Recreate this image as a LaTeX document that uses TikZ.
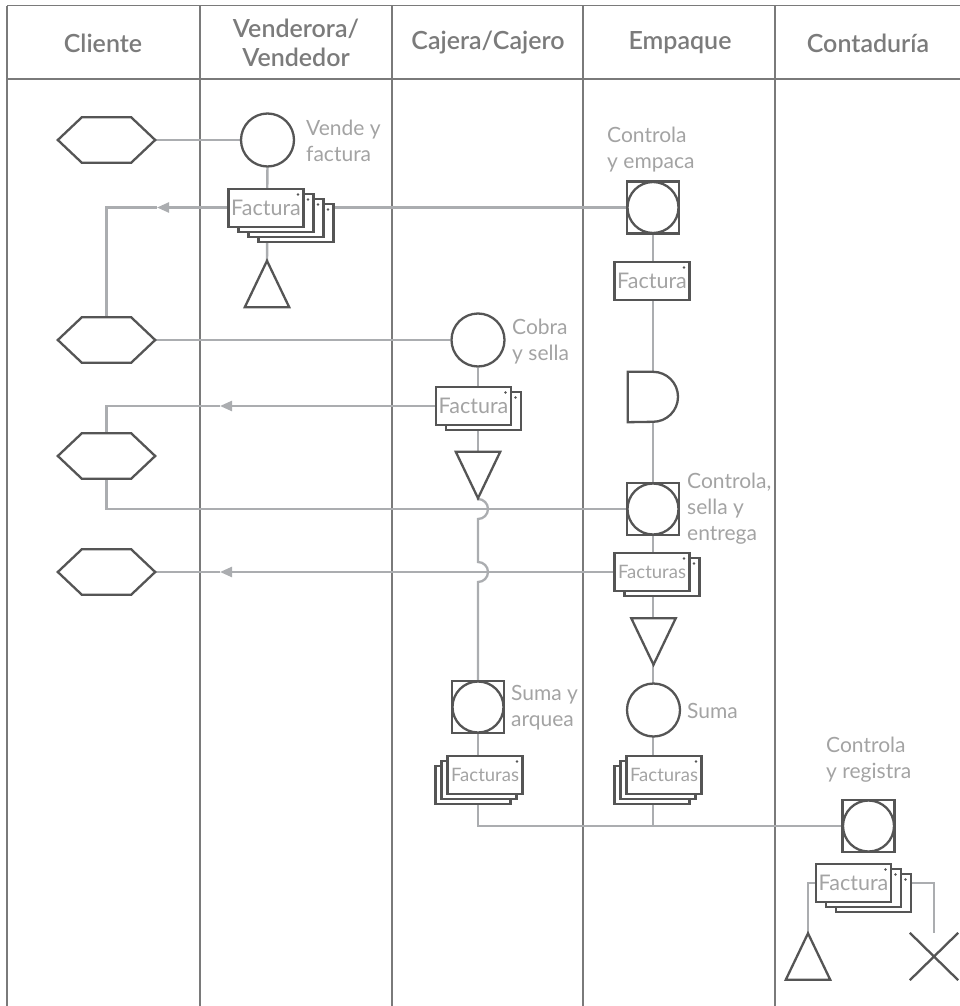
\documentclass[tikz,border=0pt]{standalone}
\usepackage{fontspec}
\setmainfont{Lato}
\newfontfamily\headfont{Lato Semibold}
\usetikzlibrary{arrows.meta,positioning,calc,shapes.misc,shadows}

\definecolor{shapegray}{HTML}{555555}
\definecolor{linkgray}{HTML}{ABADB0}
\definecolor{lanegray}{HTML}{7A7A7A}
\definecolor{txtgray}{HTML}{A3A3A3}
\definecolor{headgray}{HTML}{7B7B7B}

\pgfdeclarelayer{bg}
\pgfsetlayers{bg,main}

\begin{document}
\begin{tikzpicture}[
    x=1pt, y=-1pt,
    shp/.style={draw=shapegray, line width=2.3pt, fill=white},
    link/.style={draw=linkgray, line width=2.3pt},
    tip/.style={-{Triangle[length=12pt,width=10pt]}},
    lane/.style={draw=lanegray, line width=1.4pt},
    head/.style={text=headgray, font=\headfont\fontsize{25}{29}\selectfont, align=center},
    note/.style={text=txtgray, font=\fontsize{21}{26}\selectfont, align=left, anchor=west, inner sep=0pt},
    proc/.style={shp, circle, minimum size=53pt, inner sep=0pt},
    cproc/.style={shp, rectangle, minimum size=52pt, inner sep=0pt,
        path picture={\draw[draw=shapegray, line width=2.3pt] (path picture bounding box.center) circle[radius=25.5pt];}},
    hexa/.style={minimum width=97pt, minimum height=45pt, inner sep=0pt},
    trbox/.style={minimum width=44pt, minimum height=46pt, inner sep=0pt},
    waitbox/.style={minimum width=50pt, minimum height=50pt, inner sep=0pt},
    doc/.style={shp, rectangle, minimum width=75pt, minimum height=38pt, inner sep=0pt,
        text=txtgray, font=\fontsize{21.5}{24}\selectfont,
        path picture={\fill[shapegray] ([xshift=-5.5pt,yshift=-5.5pt]path picture bounding box.north east) circle[radius=1.3pt];}},
    docs/.style={doc, font=\fontsize{18.5}{22}\selectfont},
    sheet/.style 2 args={copy shadow={shadow xshift=#1, shadow yshift=#2, draw=shapegray, fill=white, line width=2.3pt,
        path picture={\fill[shapegray] ([xshift=-5.5pt,yshift=-5.5pt]path picture bounding box.north east) circle[radius=1.3pt];}}},
    pile2/.style={sheet={10pt}{-5pt}},
    pile3/.style={sheet={20pt}{-10pt}, sheet={10pt}{-5pt}},
    pile4/.style={sheet={30pt}{-15pt}, sheet={20pt}{-10pt}, sheet={10pt}{-5pt}},
    pile3l/.style={sheet={-12pt}{-10pt}, sheet={-6pt}{-5pt}}
]
\useasboundingbox (0,0) rectangle (960,1006);

% headers
\node[head] (hcli) at (103,43) {Cliente};
\node[head] (hven) at (296,43) {Venderora/\\Vendedor};
\node[head] (hcaj) at (488,43) {Cajera/Cajero};
\node[head] (hemp) at (680,43) {Empaque};
\node[head] (hcon) at (868,43) {Contaduría};

% Cliente
\node[hexa] (cl1) at (106.5,140) {};
\node[hexa] (cl2) at (106.5,340) {};
\node[hexa] (cl3) at (106.5,456) {};
\node[hexa] (cl4) at (106.5,572) {};

% Venderora/Vendedor
\node[proc] (ven) at (267.5,140) {};
\node[note] (venl) at (306,141) {Vende y\\factura};
\node[doc, pile4] (vfac) at (266,208) {Factura};
\node[trbox] (vend) at (267,284) {};

% Cajera/Cajero
\node[proc] (caj) at (478,340) {};
\node[note] (cajl) at (512,342) {Cobra\\y sella};
\node[doc, pile2] (cfac) at (473.5,406) {Factura};
\node[trbox] (cfile) at (478,475) {};
\node[cproc] (sum1) at (478,707) {};
\node[note] (sum1l) at (511,708) {Suma y\\arquea};
\node[docs, pile3l] (cfacs) at (485,775) {Facturas};

% Empaque
\node[note] (empl) at (607,150) {Controla\\y empaca};
\node[cproc] (emp) at (653,207.5) {};
\node[doc] (efac) at (652,281) {Factura};
\node[waitbox] (ewait) at (653,397) {};
\node[cproc] (ent) at (653,509) {};
\node[note] (entl) at (687,509) {Controla,\\sella y\\entrega};
\node[docs, pile2] (efacs) at (652,572) {Facturas};
\node[trbox] (efile) at (653.5,641.5) {};
\node[proc] (sum2) at (653.5,710) {};
\node[note] (sum2l) at (687,711) {Suma};
\node[docs, pile3l] (efacs2) at (664,775) {Facturas};

% Contaduria
\node[note] (regl) at (826,760) {Controla\\y registra};
\node[cproc] (reg) at (868.5,826) {};
\node[doc, pile3] (rfac) at (853.5,883) {Factura};
\node[trbox] (rfile) at (808,956.5) {};
\node[cross out, draw=shapegray, line width=2.3pt, minimum width=46pt, minimum height=45pt] (rdel) at (934,956.5) {};

% outlines
\foreach \n in {cl1,cl2,cl3,cl4}
  \draw[shp] (\n.west) -- ([xshift=24pt]\n.north west) -- ([xshift=-24pt]\n.north east) -- (\n.east)
    -- ([xshift=-24pt]\n.south east) -- ([xshift=24pt]\n.south west) -- cycle;
\foreach \n in {vend,rfile}
  \draw[shp] (\n.north) -- (\n.south east) -- (\n.south west) -- cycle;
\foreach \n in {cfile,efile}
  \draw[shp] (\n.south) -- (\n.north east) -- (\n.north west) -- cycle;
\draw[shp] (ewait.south west) -- (ewait.north west) -- (ewait.north) arc[start angle=-90, end angle=90, radius=25] -- cycle;

\coordinate (a1) at (157,207.5);
\coordinate (a2) at (220,406);
\coordinate (a3) at (220,572);

\begin{pgfonlayer}{bg}
\foreach \x in {7,200,392,583,775}
  \draw[lane] (\x,5.7) -- (\x,1006);
\draw[lane] (7,5.7) -- (960,5.7) (7,79) -- (960,79);

\draw[link] (cl1) -- (ven);
\draw[link] (ven) -- (vend);
\draw[link, tip] (emp.west) -- (a1);
\draw[link] (a1) -| (cl2.north);
\draw[link] (cl2) -- (caj);
\draw[link] (caj) -- (cfile);
\draw[link, tip] (cfac.west) -- (a2);
\draw[link] (a2) -| (cl3.north);
\draw[link] (ent.west) -| (cl3.south);
\draw[link, tip] (efacs.west) -- (a3);
\draw[link] (a3) -- (cl4.east);
\draw[link] (cfile.south) -- ($(cfile.south |- ent.west)+(0,-10)$) arc[start angle=-90, end angle=90, radius=10]
  -- ($(cfile.south |- efacs.west)+(0,-10)$) arc[start angle=-90, end angle=90, radius=10] -- (sum1.north);
\draw[link] (sum1) -- (sum1 |- reg) -- (reg);
\draw[link] (emp) -- (emp |- reg);
\draw[link] (rfac.west) -| (rfile.north);
\draw[link] (rfac.east) -| (rdel.north);
\end{pgfonlayer}
\end{tikzpicture}
\end{document}
